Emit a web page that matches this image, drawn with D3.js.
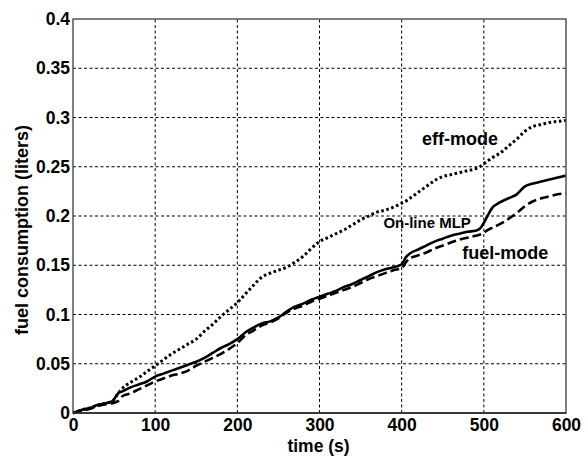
<!DOCTYPE html>
<html>
<head>
<meta charset="utf-8">
<script src="https://cdn.jsdelivr.net/npm/d3@7"></script>
<style>
  html, body { margin: 0; padding: 0; background: #fff; }
  svg { display: block; }
  text { font-family: "Liberation Sans", Arial, Helvetica, sans-serif; font-weight: bold; fill: #000; }
</style>
</head>
<body>
<svg id="chart" width="585" height="460"></svg>
<script>
// Sample times (s)
const time = [0,10,20,30,40,48,55,60,70,80,90,100,110,120,130,140,150,160,170,180,190,200,
  210,220,230,240,250,260,270,280,290,300,310,320,330,340,350,360,370,380,390,400,405,410,
  420,430,440,450,460,470,480,490,495,500,505,510,520,530,540,550,560,570,580,590,600];

// Cumulative fuel consumption (liters) for each strategy
const onlineMLP = [0,0.003,0.005,0.008,0.010,0.012,0.020,0.022,0.026,0.029,0.032,0.037,0.040,0.043,
  0.046,0.049,0.052,0.056,0.061,0.066,0.070,0.075,0.082,0.087,0.091,0.093,0.097,0.103,0.108,0.111,
  0.115,0.118,0.121,0.124,0.128,0.131,0.135,0.139,0.143,0.146,0.148,0.151,0.158,0.162,0.166,0.170,
  0.174,0.177,0.180,0.182,0.184,0.185,0.187,0.193,0.201,0.208,0.214,0.218,0.222,0.230,0.233,0.235,
  0.237,0.239,0.241];

const fuelMode = [0,0.002,0.004,0.007,0.009,0.010,0.012,0.017,0.020,0.024,0.028,0.032,0.035,0.038,
  0.040,0.043,0.048,0.052,0.056,0.060,0.065,0.071,0.079,0.084,0.089,0.092,0.096,0.102,0.106,0.109,
  0.113,0.116,0.119,0.122,0.125,0.128,0.132,0.136,0.139,0.142,0.145,0.147,0.153,0.157,0.160,0.163,
  0.167,0.170,0.173,0.176,0.178,0.180,0.181,0.183,0.186,0.188,0.192,0.197,0.203,0.210,0.215,0.218,
  0.220,0.222,0.223];

const effMode = [0,0.003,0.005,0.008,0.010,0.012,0.020,0.025,0.031,0.036,0.042,0.048,0.054,0.060,
  0.065,0.070,0.075,0.083,0.090,0.098,0.105,0.112,0.121,0.130,0.138,0.142,0.145,0.148,0.153,0.159,
  0.167,0.174,0.178,0.182,0.186,0.191,0.196,0.200,0.204,0.206,0.209,0.213,0.215,0.218,0.224,0.230,
  0.236,0.240,0.242,0.244,0.246,0.248,0.250,0.253,0.256,0.259,0.264,0.271,0.278,0.286,0.291,0.293,
  0.295,0.296,0.297];

const xTicks = [0,100,200,300,400,500,600];
const yTicks = [0,0.05,0.1,0.15,0.2,0.25,0.3,0.35,0.4];
const yTickLabels = ["0","0.05","0.1","0.15","0.2","0.25","0.3","0.35","0.4"];

// Series styles and in-plot annotations
const series = [
  {name: "On-line MLP", values: onlineMLP, dash: null, width: 2.6},
  {name: "fuel-mode", values: fuelMode, dash: "9,4", width: 2.6},
  {name: "eff-mode", values: effMode, dash: "2.6,2.6", width: 3}
];
const annotations = [
  {text: "eff-mode", t: 471, v: 0.272, size: 18},
  {text: "On-line MLP", t: 431, v: 0.188, size: 15},
  {text: "fuel-mode", t: 526, v: 0.156, size: 18}
];

const svg = d3.select("#chart");
const margin = {left: 73, top: 19, right: 19, bottom: 47};
const W = 585, H = 460;

const x = d3.scaleLinear().domain([0, 600]).range([margin.left, W - margin.right]);
const y = d3.scaleLinear().domain([0, 0.4]).range([H - margin.bottom, margin.top]);

// Dashed grid
const grid = svg.append("g");
grid.selectAll("line.vx").data(xTicks.slice(1, -1)).join("line")
  .attr("x1", d => x(d)).attr("x2", d => x(d))
  .attr("y1", y(0)).attr("y2", y(0.4))
  .attr("stroke", "#000").attr("stroke-width", 1).attr("stroke-dasharray", "3,2.5");
grid.selectAll("line.hy").data(yTicks.slice(1, -1)).join("line")
  .attr("x1", x(0)).attr("x2", x(600))
  .attr("y1", d => y(d)).attr("y2", d => y(d))
  .attr("stroke", "#000").attr("stroke-width", 1).attr("stroke-dasharray", "3,2.5");

// Curves
const line = d3.line().x((d, i) => x(time[i])).y(d => y(d)).curve(d3.curveMonotoneX);
svg.append("g").selectAll("path").data(series).join("path")
  .attr("d", d => line(d.values))
  .attr("fill", "none")
  .attr("stroke", "#000")
  .attr("stroke-width", d => d.width)
  .attr("stroke-linejoin", "round")
  .attr("stroke-dasharray", d => d.dash);

// Axes box
svg.append("rect")
  .attr("x", x(0)).attr("y", y(0.4))
  .attr("width", x(600) - x(0)).attr("height", y(0) - y(0.4))
  .attr("fill", "none").attr("stroke", "#555").attr("stroke-width", 1.5);
svg.append("line")
  .attr("x1", x(0)).attr("x2", x(600)).attr("y1", y(0)).attr("y2", y(0))
  .attr("stroke", "#222").attr("stroke-width", 1.5);

// Axis tick labels via d3 axes
const xAxis = d3.axisBottom(x).tickValues(xTicks).tickSize(0).tickPadding(6);
svg.append("g").attr("transform", `translate(0,${y(0)})`).call(xAxis)
  .call(g => g.select(".domain").remove())
  .selectAll("text").attr("font-size", 17.5).attr("font-family", null).style("font-weight", "bold");

const yAxis = d3.axisLeft(y).tickValues(yTicks).tickSize(0).tickPadding(3)
  .tickFormat((d, i) => yTickLabels[i]);
svg.append("g").attr("transform", `translate(${x(0)},0)`).call(yAxis)
  .call(g => g.select(".domain").remove())
  .selectAll("text").attr("font-size", 17.5).attr("font-family", null).style("font-weight", "bold");

// Axis titles
svg.append("text")
  .attr("x", (x(0) + x(600)) / 2 - 1).attr("y", 452)
  .attr("text-anchor", "middle").attr("font-size", 17.5)
  .text("time (s)");
svg.append("text")
  .attr("transform", `translate(28,${(y(0) + y(0.4)) / 2 + 14}) rotate(-90)`)
  .attr("text-anchor", "middle").attr("font-size", 18)
  .text("fuel consumption (liters)");

// Curve annotations
svg.append("g").selectAll("text").data(annotations).join("text")
  .attr("x", d => x(d.t)).attr("y", d => y(d.v))
  .attr("text-anchor", "middle")
  .attr("font-size", d => d.size)
  .text(d => d.text);
</script>
</body>
</html>
